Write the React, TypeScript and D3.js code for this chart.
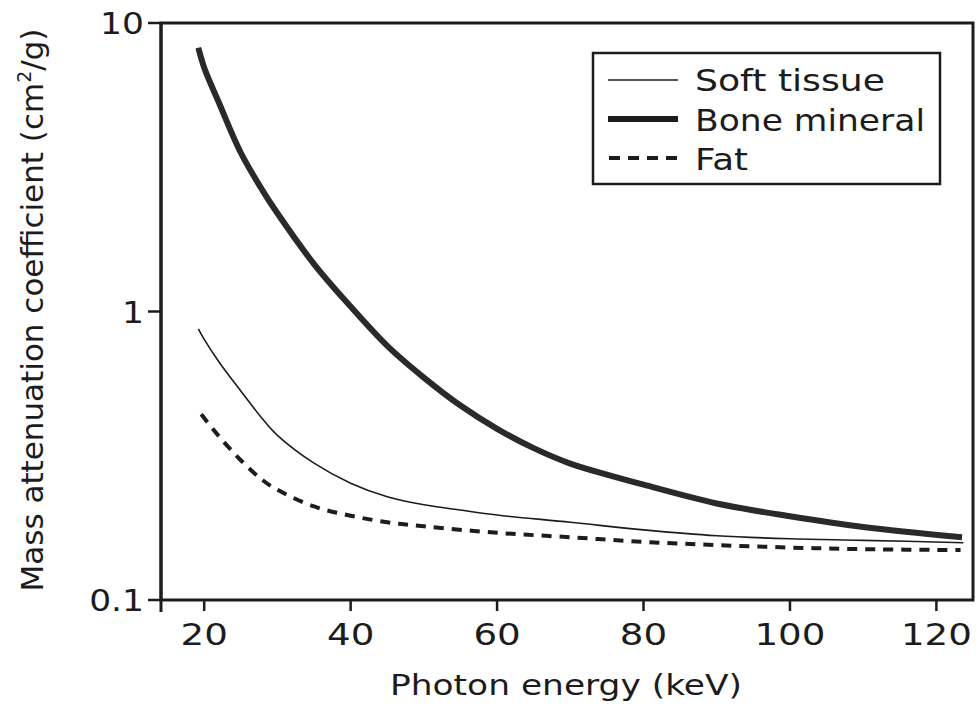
import React from "react";
import * as d3 from "d3";

const boneE = [19.2, 20, 22, 25, 28, 30, 35, 40, 45, 50, 55, 60, 65, 70, 75, 80, 90, 100, 110, 123.5];
const boneV = [8.2, 7.0, 5.3, 3.55, 2.62, 2.19, 1.46, 1.04, 0.76, 0.59, 0.472, 0.392, 0.336, 0.297, 0.272, 0.251, 0.216, 0.195, 0.179, 0.165];

const softE = [19.2, 20, 22, 25, 28, 30, 35, 40, 45, 50, 55, 60, 70, 80, 90, 100, 110, 123.7];
const softV = [0.87, 0.8, 0.67, 0.53, 0.423, 0.372, 0.298, 0.254, 0.228, 0.214, 0.205, 0.197, 0.186, 0.175, 0.167, 0.163, 0.161, 0.158];

const fatE = [19.6, 22, 25, 28, 30, 35, 40, 45, 50, 60, 70, 80, 90, 100, 110, 123.3];
const fatV = [0.44, 0.37, 0.305, 0.26, 0.241, 0.211, 0.196, 0.186, 0.18, 0.171, 0.165, 0.159, 0.155, 0.152, 0.15, 0.149];

const xTicks = [20, 40, 60, 80, 100, 120];
const yTicks = [10, 1, 0.1];
const yTickLabels = ["10", "1", "0.1"];
const legendLabels = ["Soft tissue", "Bone mineral", "Fat"];

const INK = "#1c1c1c";
const FONT = "DejaVu Sans";

export default function App() {
  const x = d3.scaleLinear().domain([14.1, 125]).range([161, 973]);
  const y = d3.scaleLog().domain([0.1, 10]).range([600, 23]);
  const line = d3
    .line<[number, number]>()
    .x((d) => x(d[0]))
    .y((d) => y(d[1]))
    .curve(d3.curveCatmullRom.alpha(0.5));
  const zip = (a: number[], b: number[]) => a.map((e, i) => [e, b[i]] as [number, number]);

  const [x0, x1] = x.range();
  const [yb, yt] = y.range();

  return (
    <svg
      width={976}
      height={715}
      style={{ position: "absolute", left: 0, top: 0, background: "#fff" }}
      fontFamily={FONT}
    >
      <rect x={0} y={0} width={976} height={715} fill="#fff" />
      {/* frame */}
      <rect x={x0} y={yt} width={x1 - x0} height={yb - yt} fill="none" stroke={INK} strokeWidth={3} />
      <line x1={x0} x2={x0} y1={yt} y2={yb + 12} stroke={INK} strokeWidth={3} />
      {/* x ticks */}
      {xTicks.map((t) => (
        <g key={t}>
          <line x1={x(t)} x2={x(t)} y1={yb} y2={yb + 11} stroke={INK} strokeWidth={2.5} />
          <text
            transform={`translate(${x(t)},645) scale(1.2,1)`}
            textAnchor="middle"
            fontSize={31}
            fill={INK}
          >
            {t}
          </text>
        </g>
      ))}
      {/* y ticks */}
      {yTicks.map((t, i) => (
        <g key={t}>
          <line x1={x0 - 13} x2={x0} y1={y(t)} y2={y(t)} stroke={INK} strokeWidth={2.5} />
          <text
            transform={`translate(144,${y(t) + 11}) scale(1.15,1)`}
            textAnchor="end"
            fontSize={30}
            fill={INK}
          >
            {yTickLabels[i]}
          </text>
        </g>
      ))}
      {/* axis titles */}
      <text x={566} y={695} textAnchor="middle" fontSize={28} fill={INK} textLength={352} lengthAdjust="spacingAndGlyphs">
        Photon energy (keV)
      </text>
      <text
        transform="translate(43,310) rotate(-90)"
        textAnchor="middle"
        fontSize={31}
        fill={INK}
      >
        Mass attenuation coefficient (cm<tspan fontSize={19} dy={-12}>2</tspan><tspan dy={12}>/g)</tspan>
      </text>
      {/* curves */}
      <path d={line(zip(softE, softV)) || ""} fill="none" stroke={INK} strokeWidth={1.6} />
      <path d={line(zip(fatE, fatV)) || ""} fill="none" stroke={INK} strokeWidth={4} strokeDasharray="10 8" />
      <path d={line(zip(boneE, boneV)) || ""} fill="none" stroke="#2a2a2a" strokeWidth={6} />
      {/* legend */}
      <rect x={593} y={53} width={347} height={131} fill="#fff" stroke={INK} strokeWidth={2.5} />
      <line x1={608} x2={678} y1={80} y2={80} stroke={INK} strokeWidth={1.6} />
      <line x1={608} x2={678} y1={119} y2={119} stroke={INK} strokeWidth={6} />
      <line x1={609} x2={678} y1={158} y2={158} stroke={INK} strokeWidth={4} strokeDasharray="11 8" />
      <text x={695} y={91} fontSize={31} fill={INK} textLength={190} lengthAdjust="spacingAndGlyphs">
        {legendLabels[0]}
      </text>
      <text x={695} y={131} fontSize={31} fill={INK} textLength={230} lengthAdjust="spacingAndGlyphs">
        {legendLabels[1]}
      </text>
      <text x={695} y={170} fontSize={31} fill={INK} textLength={53} lengthAdjust="spacingAndGlyphs">
        {legendLabels[2]}
      </text>
    </svg>
  );
}
